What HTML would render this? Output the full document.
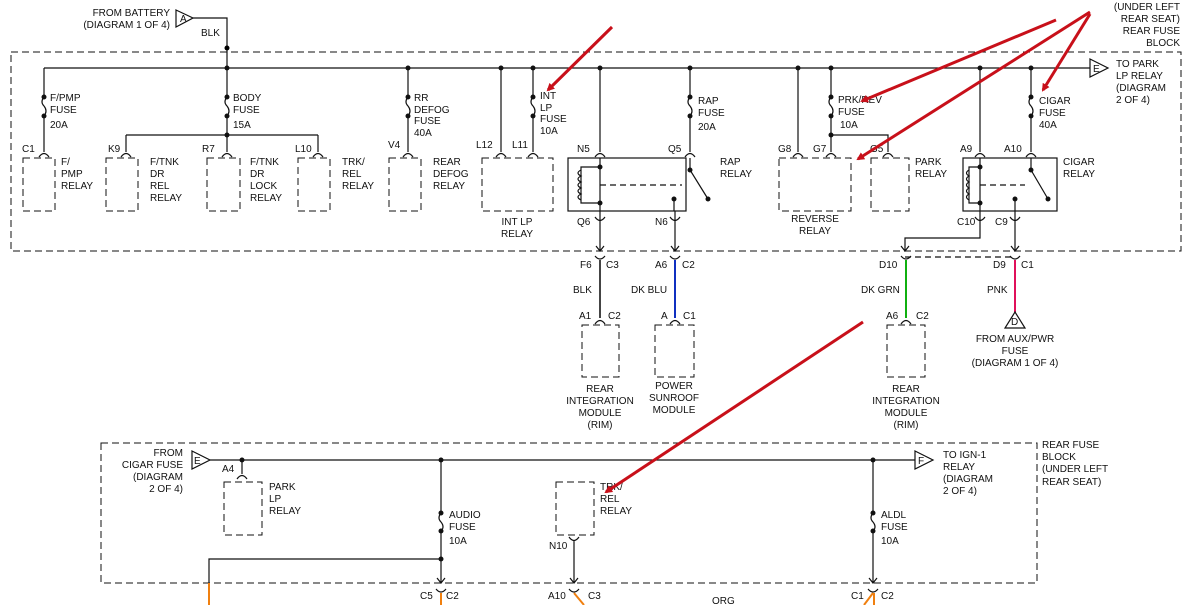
<!DOCTYPE html>
<html><head><style>
html,body{margin:0;padding:0;background:#fff;width:1194px;height:605px;overflow:hidden}
svg{display:block}
text{font-family:"Liberation Sans",sans-serif;font-size:10px;fill:#111}
.k{stroke:#111;stroke-width:1.2;fill:none}
.d{stroke:#111;stroke-width:1;fill:none;stroke-dasharray:7,4}
.r{stroke:#c8101a;stroke-width:3;fill:none}
</style></head><body>
<svg width="1194" height="605" viewBox="0 0 1194 605">
<defs>
<marker id="ah" markerWidth="8" markerHeight="8" refX="6" refY="4" orient="auto" markerUnits="userSpaceOnUse"><path d="M0,0 L8,4 L0,8 z" fill="#c8101a"/></marker>
</defs>
<text x="170" y="16" text-anchor="end">FROM BATTERY</text>
<text x="170" y="28" text-anchor="end">(DIAGRAM 1 OF 4)</text>
<path class="k" d="M176,10 L193,18 L176,27 Z"/><text x="180" y="22" font-size="9">A</text>
<path class="k" d="M193,18 L227,18 L227,68"/>
<text x="201" y="36">BLK</text>
<circle cx="227" cy="48" r="2.5"/>
<text x="1180" y="10" text-anchor="end">(UNDER LEFT</text>
<text x="1180" y="22" text-anchor="end">REAR SEAT)</text>
<text x="1180" y="34" text-anchor="end">REAR FUSE</text>
<text x="1180" y="46" text-anchor="end">BLOCK</text>
<rect class="d" x="11" y="52" width="1170" height="199"/>
<path class="k" d="M44,68 L1090,68"/>
<path class="k" d="M1090,59 L1108,68 L1090,77 Z"/><text x="1093" y="72" font-size="9">E</text>
<text x="1116" y="67">TO PARK</text><text x="1116" y="79">LP RELAY</text><text x="1116" y="91">(DIAGRAM</text><text x="1116" y="103">2 OF 4)</text>
<g fill="#111">
<circle cx="227" cy="68" r="2.5"/><circle cx="408" cy="68" r="2.5"/><circle cx="501" cy="68" r="2.5"/><circle cx="533" cy="68" r="2.5"/><circle cx="600" cy="68" r="2.5"/><circle cx="690" cy="68" r="2.5"/><circle cx="798" cy="68" r="2.5"/><circle cx="831" cy="68" r="2.5"/><circle cx="980" cy="68" r="2.5"/><circle cx="1031" cy="68" r="2.5"/>
</g>
<g class="k">
<path d="M44,68 V97 M44,97 q-4,5 0,9 q4,5 0,10 M44,116 V152"/>
<path d="M227,68 V97 M227,97 q-4,5 0,9 q4,5 0,10 M227,116 V152"/>
<path d="M126,135 H318 M126,135 V152 M318,135 V152"/>
<path d="M408,68 V97 M408,97 q-4,5 0,9 q4,5 0,10 M408,116 V152"/>
<path d="M501,68 V152"/>
<path d="M533,68 V97 M533,97 q-4,5 0,9 q4,5 0,10 M533,116 V152"/>
<path d="M600,68 V152"/>
<path d="M690,68 V97 M690,97 q-4,5 0,9 q4,5 0,10 M690,116 V152"/>
<path d="M798,68 V152"/>
<path d="M831,68 V97 M831,97 q-4,5 0,9 q4,5 0,10 M831,116 V152 M831,135 H888 V152"/>
<path d="M980,68 V152"/>
<path d="M1031,68 V97 M1031,97 q-4,5 0,9 q4,5 0,10 M1031,116 V152"/>
</g>
<g fill="#111">
<circle cx="44" cy="97" r="2.5"/><circle cx="44" cy="116" r="2.5"/>
<circle cx="227" cy="97" r="2.5"/><circle cx="227" cy="116" r="2.5"/><circle cx="227" cy="135" r="2.5"/>
<circle cx="408" cy="97" r="2.5"/><circle cx="408" cy="116" r="2.5"/>
<circle cx="533" cy="97" r="2.5"/><circle cx="533" cy="116" r="2.5"/>
<circle cx="690" cy="97" r="2.5"/><circle cx="690" cy="116" r="2.5"/>
<circle cx="831" cy="97" r="2.5"/><circle cx="831" cy="116" r="2.5"/><circle cx="831" cy="135" r="2.5"/>
<circle cx="1031" cy="97" r="2.5"/><circle cx="1031" cy="116" r="2.5"/>
</g>
<g class="k">
<path d="M39,157 q5,-7 10,0 M121,157 q5,-7 10,0 M222,157 q5,-7 10,0 M313,157 q5,-7 10,0 M403,157 q5,-7 10,0 M496,157 q5,-7 10,0 M528,157 q5,-7 10,0 M595,157 q5,-7 10,0 M685,157 q5,-7 10,0 M793,157 q5,-7 10,0 M826,157 q5,-7 10,0 M883,157 q5,-7 10,0 M975,157 q5,-7 10,0 M1026,157 q5,-7 10,0"/>
</g>
<g class="d">
<rect x="23" y="158" width="32" height="53"/><rect x="106" y="158" width="32" height="53"/><rect x="207" y="158" width="33" height="53"/><rect x="298" y="158" width="32" height="53"/><rect x="389" y="158" width="32" height="53"/><rect x="482" y="158" width="71" height="53"/><rect x="779" y="158" width="72" height="53"/><rect x="871" y="158" width="38" height="53"/>
</g>
<text x="50" y="101">F/PMP</text><text x="50" y="113">FUSE</text><text x="50" y="128">20A</text>
<text x="233" y="101">BODY</text><text x="233" y="113">FUSE</text><text x="233" y="128">15A</text>
<text x="414" y="101">RR</text><text x="414" y="113">DEFOG</text><text x="414" y="124">FUSE</text><text x="414" y="136">40A</text>
<text x="540" y="99">INT</text><text x="540" y="111">LP</text><text x="540" y="122">FUSE</text><text x="540" y="134">10A</text>
<text x="698" y="104">RAP</text><text x="698" y="116">FUSE</text><text x="698" y="130">20A</text>
<text x="838" y="103">PRK/REV</text><text x="838" y="115">FUSE</text><text x="840" y="128">10A</text>
<text x="1039" y="104">CIGAR</text><text x="1039" y="116">FUSE</text><text x="1039" y="128">40A</text>
<text x="22" y="152">C1</text><text x="108" y="152">K9</text><text x="202" y="152">R7</text><text x="295" y="152">L10</text><text x="388" y="148">V4</text><text x="476" y="148">L12</text><text x="512" y="148">L11</text><text x="577" y="152">N5</text><text x="668" y="152">Q5</text><text x="778" y="152">G8</text><text x="813" y="152">G7</text><text x="870" y="152">G5</text><text x="960" y="152">A9</text><text x="1004" y="152">A10</text>
<text x="61" y="165">F/</text><text x="61" y="177">PMP</text><text x="61" y="189">RELAY</text>
<text x="150" y="165">F/TNK</text><text x="150" y="177">DR</text><text x="150" y="189">REL</text><text x="150" y="201">RELAY</text>
<text x="250" y="165">F/TNK</text><text x="250" y="177">DR</text><text x="250" y="189">LOCK</text><text x="250" y="201">RELAY</text>
<text x="342" y="165">TRK/</text><text x="342" y="177">REL</text><text x="342" y="189">RELAY</text>
<text x="433" y="165">REAR</text><text x="433" y="177">DEFOG</text><text x="433" y="189">RELAY</text>
<text x="517" y="225" text-anchor="middle">INT LP</text><text x="517" y="237" text-anchor="middle">RELAY</text>
<text x="720" y="165">RAP</text><text x="720" y="177">RELAY</text>
<text x="815" y="222" text-anchor="middle">REVERSE</text><text x="815" y="234" text-anchor="middle">RELAY</text>
<text x="915" y="165">PARK</text><text x="915" y="177">RELAY</text>
<text x="1063" y="165">CIGAR</text><text x="1063" y="177">RELAY</text>
<!-- RAP relay -->
<rect class="k" x="568" y="158" width="118" height="53"/>
<g class="k">
<path d="M600,158 V211 M600,167 H581 V203 H600"/>
<path d="M581,170 q-6,3 0,6 q-6,3 0,6 q-6,3 0,6 q-6,3 0,6 q-6,3 0,6"/>
<path d="M600,185 H682" stroke-dasharray="6,4"/>
<path d="M690,158 V170 L708,199 M674,199 V211"/>
<path d="M600,211 V251 M675,211 V251"/>
<path d="M595,217 q5,7 10,0 M670,217 q5,7 10,0"/>
<path d="M596,246 L600,251 L604,246 M671,246 L675,251 L679,246"/>
</g>
<g fill="#111"><circle cx="600" cy="167" r="2.5"/><circle cx="600" cy="203" r="2.5"/><circle cx="690" cy="170" r="2.5"/><circle cx="708" cy="199" r="2.5"/><circle cx="674" cy="199" r="2.5"/></g>
<text x="577" y="225">Q6</text><text x="655" y="225">N6</text>
<!-- CIGAR relay -->
<rect class="k" x="963" y="158" width="94" height="53"/>
<g class="k">
<path d="M980,158 V211 M980,167 H969 V203 H980"/>
<path d="M969,170 q-5,3 0,6 q-5,3 0,6 q-5,3 0,6 q-5,3 0,6 q-5,3 0,6"/>
<path d="M980,185 H1025" stroke-dasharray="6,4"/>
<path d="M1031,158 V170 L1048,199 M1015,199 V211"/>
<path d="M980,211 V238 H905 V251 M1015,211 V251"/>
<path d="M975,217 q5,7 10,0 M1010,217 q5,7 10,0"/>
<path d="M901,246 L905,251 L909,246 M1011,246 L1015,251 L1019,246"/>
</g>
<g fill="#111"><circle cx="980" cy="167" r="2.5"/><circle cx="980" cy="203" r="2.5"/><circle cx="1031" cy="170" r="2.5"/><circle cx="1048" cy="199" r="2.5"/><circle cx="1015" cy="199" r="2.5"/></g>
<text x="957" y="225">C10</text><text x="995" y="225">C9</text>
<g class="k"><path d="M595,256 q5,6 10,0 M670,256 q5,6 10,0 M901,256 q5,6 10,0 M1010,256 q5,6 10,0"/>
<path d="M905,257 H1015" stroke-dasharray="6,4"/></g>
<text x="580" y="268">F6</text><text x="606" y="268">C3</text>
<text x="655" y="268">A6</text><text x="682" y="268">C2</text>
<text x="879" y="268">D10</text>
<text x="993" y="268">D9</text><text x="1021" y="268">C1</text>
<path d="M600,260 V318" stroke="#444" stroke-width="2"/>
<path d="M675,260 V318" stroke="#1030c0" stroke-width="2"/>
<path d="M906,260 V318" stroke="#10b010" stroke-width="2"/>
<path d="M1015,260 V312" stroke="#e0105a" stroke-width="2"/>
<text x="573" y="293">BLK</text><text x="631" y="293">DK BLU</text><text x="861" y="293">DK GRN</text><text x="987" y="293">PNK</text>
<g class="k"><path d="M595,324 q5,-7 10,0 M670,324 q5,-7 10,0 M901,324 q5,-7 10,0"/>
<path d="M1015,312 L1025,328 L1005,328 Z"/></g>
<text x="1011" y="325" font-size="9">D</text>
<text x="579" y="319">A1</text><text x="608" y="319">C2</text>
<text x="661" y="319">A</text><text x="683" y="319">C1</text>
<text x="886" y="319">A6</text><text x="916" y="319">C2</text>
<g class="d"><rect x="582" y="325" width="37" height="52"/><rect x="655" y="325" width="39" height="52"/><rect x="887" y="325" width="38" height="52"/></g>
<g text-anchor="middle">
<text x="600" y="392">REAR</text><text x="600" y="404">INTEGRATION</text><text x="600" y="416">MODULE</text><text x="600" y="428">(RIM)</text>
<text x="674" y="389">POWER</text><text x="674" y="401">SUNROOF</text><text x="674" y="413">MODULE</text>
<text x="906" y="392">REAR</text><text x="906" y="404">INTEGRATION</text><text x="906" y="416">MODULE</text><text x="906" y="428">(RIM)</text>
<text x="1015" y="342">FROM AUX/PWR</text><text x="1015" y="354">FUSE</text><text x="1015" y="366">(DIAGRAM 1 OF 4)</text>
</g>
<rect class="d" x="101" y="443" width="936" height="140"/>
<text x="183" y="456" text-anchor="end">FROM</text><text x="183" y="468" text-anchor="end">CIGAR FUSE</text><text x="183" y="480" text-anchor="end">(DIAGRAM</text><text x="183" y="492" text-anchor="end">2 OF 4)</text>
<path class="k" d="M192,451 L210,460 L192,469 Z"/><text x="194" y="464" font-size="9">E</text>
<path class="k" d="M210,460 H915"/>
<path class="k" d="M915,451 L933,460 L915,469 Z"/><text x="918" y="464" font-size="9">F</text>
<text x="943" y="458">TO IGN-1</text><text x="943" y="470">RELAY</text><text x="943" y="482">(DIAGRAM</text><text x="943" y="494">2 OF 4)</text>
<text x="1042" y="448">REAR FUSE</text><text x="1042" y="460">BLOCK</text><text x="1042" y="472">(UNDER LEFT</text><text x="1042" y="485">REAR SEAT)</text>
<g fill="#111"><circle cx="242" cy="460" r="2.5"/><circle cx="441" cy="460" r="2.5"/><circle cx="873" cy="460" r="2.5"/>
<circle cx="441" cy="513" r="2.5"/><circle cx="441" cy="531" r="2.5"/><circle cx="441" cy="559" r="2.5"/>
<circle cx="873" cy="513" r="2.5"/><circle cx="873" cy="531" r="2.5"/></g>
<g class="k">
<path d="M242,460 V474 M237,479 q5,-7 10,0"/>
<path d="M441,460 V513 M441,513 q-4,5 0,9 q4,5 0,9 M441,531 V583 M441,559 H209 V583"/>
<path d="M873,460 V513 M873,513 q-4,5 0,9 q4,5 0,9 M873,531 V583"/>
<path d="M569,537 q5,7 10,0 M574,540 V583"/>
<path d="M437,578 L441,583 L445,578 M570,578 L574,583 L578,578 M869,578 L873,583 L877,578"/>
<path d="M436,589 q5,6 10,0 M569,589 q5,6 10,0 M868,589 q5,6 10,0"/>
</g>
<g class="d"><rect x="224" y="482" width="38" height="53"/><rect x="556" y="482" width="38" height="53"/></g>
<text x="222" y="472">A4</text>
<text x="269" y="490">PARK</text><text x="269" y="502">LP</text><text x="269" y="514">RELAY</text>
<text x="600" y="490">TRK/</text><text x="600" y="502">REL</text><text x="600" y="514">RELAY</text>
<text x="449" y="518">AUDIO</text><text x="449" y="530">FUSE</text><text x="449" y="544">10A</text>
<text x="881" y="518">ALDL</text><text x="881" y="530">FUSE</text><text x="881" y="544">10A</text>
<text x="549" y="549">N10</text>
<text x="420" y="599">C5</text><text x="446" y="599">C2</text>
<text x="548" y="599">A10</text><text x="588" y="599">C3</text>
<text x="851" y="599">C1</text><text x="881" y="599">C2</text>
<text x="712" y="604">ORG</text>
<g stroke="#f08010" stroke-width="2" fill="none">
<path d="M209,583 V605 M441,593 V605 M574,593 L584,605 M873,593 L864,605 M874,593 V605"/>
</g>
<g class="r" marker-end="url(#ah)">
<path d="M612,27 L548,90"/>
<path d="M1056,20 L862,101"/>
<path d="M1090,12 L858,159"/>
<path d="M1090,14 L1043,90"/>
<path d="M863,322 L606,492"/>
</g>
</svg>
</body></html>
